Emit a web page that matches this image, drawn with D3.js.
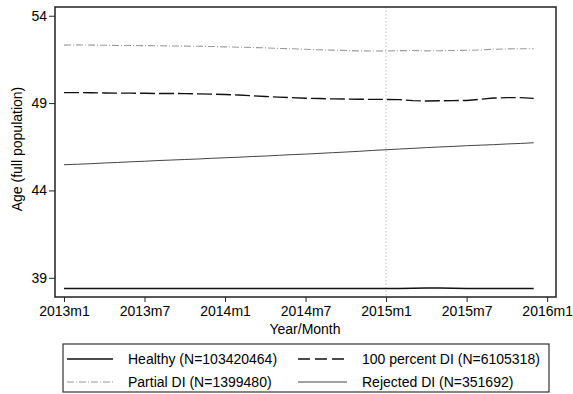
<!DOCTYPE html>
<html>
<head>
<meta charset="utf-8">
<script src="https://cdn.jsdelivr.net/npm/d3@7"></script>
<style>
  html, body { margin: 0; padding: 0; background: #fff; }
  svg { display: block; font-family: "Liberation Sans", Arial, sans-serif; }
</style>
</head>
<body>
<svg id="chart" width="573" height="394"></svg>
<script>
// ---- Data ----
const months = d3.range(0, 36); // 0 = 2013m1 ... 35 = 2015m12
const xTickValues = [0, 6, 12, 18, 24, 30, 36];
const xTickLabels = ["2013m1", "2013m7", "2014m1", "2014m7", "2015m1", "2015m7", "2016m1"];
const yTickValues = [39, 44, 49, 54];

const healthy = [38.39,38.39,38.39,38.39,38.39,38.39,38.39,38.39,38.39,38.39,38.39,38.39,
                 38.39,38.39,38.39,38.39,38.39,38.39,38.39,38.39,38.39,38.39,38.39,38.39,
                 38.39,38.39,38.40,38.41,38.41,38.40,38.39,38.39,38.39,38.39,38.39,38.39];
const fullDI = [49.60,49.60,49.59,49.58,49.57,49.57,49.56,49.55,49.55,49.54,49.53,49.51,
                49.49,49.46,49.42,49.38,49.34,49.31,49.28,49.26,49.24,49.23,49.22,49.21,
                49.21,49.20,49.14,49.12,49.13,49.14,49.15,49.22,49.29,49.31,49.31,49.27];
const partialDI = [52.32,52.33,52.32,52.31,52.30,52.30,52.29,52.28,52.27,52.26,52.25,52.24,
                   52.22,52.20,52.18,52.16,52.13,52.11,52.08,52.05,52.03,52.01,51.99,51.98,
                   51.99,52.00,52.01,51.99,52.00,52.01,52.02,52.04,52.08,52.10,52.11,52.11];
const rejectedDI = [45.47,45.50,45.53,45.57,45.60,45.64,45.67,45.71,45.74,45.77,45.80,45.84,
                    45.87,45.90,45.94,45.97,46.01,46.05,46.08,46.12,46.16,46.20,46.24,46.29,
                    46.33,46.37,46.41,46.45,46.49,46.52,46.56,46.59,46.62,46.66,46.69,46.73];

const seriesNames = ["Healthy (N=103420464)", "100 percent DI (N=6105318)",
                     "Partial DI (N=1399480)", "Rejected DI (N=351692)"];
const seriesValues = [healthy, fullDI, partialDI, rejectedDI];
const refLineMonth = 24;

// ---- Styles ----
const styles = [
  { stroke: "#111", width: 1.5, dash: null },
  { stroke: "#111", width: 1.4, dash: "15,4" },
  { stroke: "#9a9a9a", width: 1.1, dash: "7,2,1,2" },
  { stroke: "#444", width: 1.0, dash: null }
];

const svg = d3.select("#chart");
const plot = { left: 55, right: 556, top: 7, bottom: 297 };

const x = d3.scaleLinear().domain([-0.67, 36.66]).range([plot.left, plot.right]);
const y = d3.scaleLinear().domain([37.9, 54.5]).range([plot.bottom, plot.top]);

// reference line
svg.append("line")
  .attr("x1", x(refLineMonth)).attr("x2", x(refLineMonth))
  .attr("y1", plot.top).attr("y2", plot.bottom)
  .attr("stroke", "#bdbdbd").attr("stroke-width", 1)
  .attr("stroke-dasharray", "1.5,2");

// lines
const line = d3.line().x((d, i) => x(months[i])).y(d => y(d));
seriesValues.forEach((vals, k) => {
  svg.append("path")
    .datum(vals)
    .attr("d", line)
    .attr("fill", "none")
    .attr("stroke", styles[k].stroke)
    .attr("stroke-width", styles[k].width)
    .attr("stroke-dasharray", styles[k].dash);
});

// plot frame
svg.append("rect")
  .attr("x", plot.left).attr("y", plot.top)
  .attr("width", plot.right - plot.left).attr("height", plot.bottom - plot.top)
  .attr("fill", "none").attr("stroke", "#222").attr("stroke-width", 1.5);

// axes
const xAxis = d3.axisBottom(x).tickValues(xTickValues)
  .tickFormat((d, i) => xTickLabels[i]).tickSize(5).tickPadding(4);
const gx = svg.append("g").attr("transform", `translate(0,${plot.bottom})`).call(xAxis);
gx.select(".domain").remove();
gx.selectAll("line").attr("stroke", "#222").attr("stroke-width", 1);
gx.selectAll("text").attr("font-size", 14).attr("fill", "#000")
  .attr("font-family", "Liberation Sans, Arial, sans-serif");

const yAxis = d3.axisLeft(y).tickValues(yTickValues).tickSize(6).tickPadding(2);
const gy = svg.append("g").attr("transform", `translate(${plot.left},0)`).call(yAxis);
gy.select(".domain").remove();
gy.selectAll("line").attr("stroke", "#222").attr("stroke-width", 1);
gy.selectAll("text").attr("font-size", 14).attr("fill", "#000")
  .attr("font-family", "Liberation Sans, Arial, sans-serif");

// axis titles
svg.append("text").attr("x", 305).attr("y", 334)
  .attr("text-anchor", "middle").attr("font-size", 14).text("Year/Month");
svg.append("text")
  .attr("transform", "translate(22,149) rotate(-90)")
  .attr("text-anchor", "middle").attr("font-size", 14).text("Age (full population)");

// legend
const lg = { x: 63, y: 344, w: 486, h: 48 };
svg.append("rect").attr("x", lg.x).attr("y", lg.y).attr("width", lg.w).attr("height", lg.h)
  .attr("fill", "none").attr("stroke", "#333").attr("stroke-width", 1.2);
const legPos = [
  { lx1: 67, lx2: 113, tx: 128, cy: 359 },
  { lx1: 298, lx2: 347, tx: 362, cy: 359 },
  { lx1: 67, lx2: 113, tx: 128, cy: 382 },
  { lx1: 298, lx2: 347, tx: 362, cy: 382 }
];
seriesNames.forEach((name, k) => {
  const p = legPos[k];
  svg.append("line").attr("x1", p.lx1).attr("x2", p.lx2).attr("y1", p.cy).attr("y2", p.cy)
    .attr("stroke", styles[k].stroke).attr("stroke-width", styles[k].width)
    .attr("stroke-dasharray", k === 1 ? "12,5" : styles[k].dash);
  svg.append("text").attr("x", p.tx).attr("y", p.cy + 5)
    .attr("font-size", 14).attr("fill", "#000").text(name);
});
</script>
</body>
</html>
